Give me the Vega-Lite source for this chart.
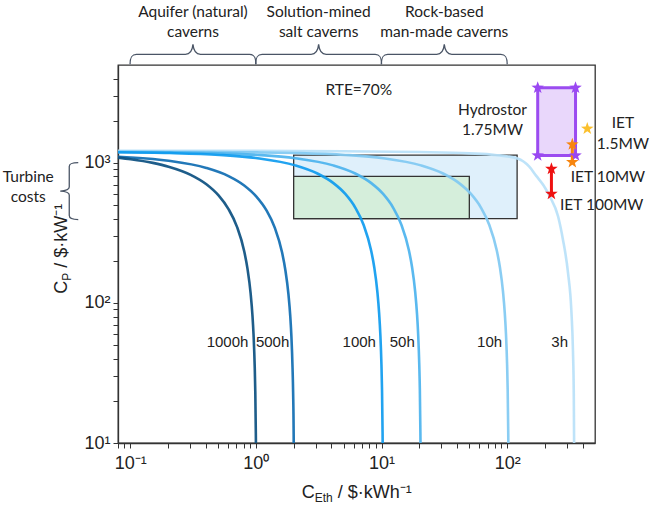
{
  "$schema": "https://vega.github.io/schema/vega-lite/v6.json",
  "width": 477,
  "height": 378,
  "autosize": {"type": "none"},
  "padding": {"left": 118, "top": 65, "right": 55, "bottom": 66},
  "background": "white",
  "config": {"view": {"stroke": "#333333", "strokeWidth": 1.3}},
  "datasets": {
    "curves": [
      {"h": "3h", "x": 0.08, "y": 1220}, {"h": "3h", "x": 1, "y": 1218}, {"h": "3h", "x": 5, "y": 1210}, {"h": "3h", "x": 20, "y": 1195}, {"h": "3h", "x": 50, "y": 1170}, {"h": "3h", "x": 80, "y": 1140}, {"h": "3h", "x": 121, "y": 1075}, {"h": "3h", "x": 150, "y": 940}, {"h": "3h", "x": 171, "y": 804}, {"h": "3h", "x": 195, "y": 690}, {"h": "3h", "x": 218, "y": 578}, {"h": "3h", "x": 254, "y": 416}, {"h": "3h", "x": 278, "y": 283}, {"h": "3h", "x": 305, "y": 164}, {"h": "3h", "x": 324, "y": 89}, {"h": "3h", "x": 334, "y": 45}, {"h": "3h", "x": 339, "y": 22}, {"h": "3h", "x": 341, "y": 10},
      {"h": "10h", "x": 0.08, "y": 1199}, {"h": "10h", "x": 0.515, "y": 1194}, {"h": "10h", "x": 1.03, "y": 1188}, {"h": "10h", "x": 2.06, "y": 1176}, {"h": "10h", "x": 5.15, "y": 1140}, {"h": "10h", "x": 10.3, "y": 1080}, {"h": "10h", "x": 20.6, "y": 960}, {"h": "10h", "x": 30.9, "y": 840}, {"h": "10h", "x": 41.2, "y": 720}, {"h": "10h", "x": 51.5, "y": 600}, {"h": "10h", "x": 61.8, "y": 480}, {"h": "10h", "x": 72.1, "y": 360}, {"h": "10h", "x": 82.4, "y": 240}, {"h": "10h", "x": 87.55, "y": 180}, {"h": "10h", "x": 92.7, "y": 120}, {"h": "10h", "x": 95.79, "y": 84}, {"h": "10h", "x": 97.85, "y": 60}, {"h": "10h", "x": 99.91, "y": 36}, {"h": "10h", "x": 100.94, "y": 24}, {"h": "10h", "x": 101.97, "y": 12}, {"h": "10h", "x": 102.15, "y": 10},
      {"h": "50h", "x": 0.08, "y": 1195}, {"h": "50h", "x": 0.206, "y": 1188}, {"h": "50h", "x": 0.412, "y": 1176}, {"h": "50h", "x": 1.03, "y": 1140}, {"h": "50h", "x": 2.06, "y": 1080}, {"h": "50h", "x": 4.12, "y": 960}, {"h": "50h", "x": 6.18, "y": 840}, {"h": "50h", "x": 8.24, "y": 720}, {"h": "50h", "x": 10.3, "y": 600}, {"h": "50h", "x": 12.36, "y": 480}, {"h": "50h", "x": 14.42, "y": 360}, {"h": "50h", "x": 16.48, "y": 240}, {"h": "50h", "x": 17.51, "y": 180}, {"h": "50h", "x": 18.54, "y": 120}, {"h": "50h", "x": 19.16, "y": 84}, {"h": "50h", "x": 19.57, "y": 60}, {"h": "50h", "x": 19.98, "y": 36}, {"h": "50h", "x": 20.19, "y": 24}, {"h": "50h", "x": 20.39, "y": 12}, {"h": "50h", "x": 20.43, "y": 10},
      {"h": "100h", "x": 0.08, "y": 1191}, {"h": "100h", "x": 0.206, "y": 1176}, {"h": "100h", "x": 0.515, "y": 1140}, {"h": "100h", "x": 1.03, "y": 1080}, {"h": "100h", "x": 2.06, "y": 960}, {"h": "100h", "x": 3.09, "y": 840}, {"h": "100h", "x": 4.12, "y": 720}, {"h": "100h", "x": 5.15, "y": 600}, {"h": "100h", "x": 6.18, "y": 480}, {"h": "100h", "x": 7.21, "y": 360}, {"h": "100h", "x": 8.24, "y": 240}, {"h": "100h", "x": 8.755, "y": 180}, {"h": "100h", "x": 9.27, "y": 120}, {"h": "100h", "x": 9.579, "y": 84}, {"h": "100h", "x": 9.785, "y": 60}, {"h": "100h", "x": 9.991, "y": 36}, {"h": "100h", "x": 10.094, "y": 24}, {"h": "100h", "x": 10.197, "y": 12}, {"h": "100h", "x": 10.215, "y": 10},
      {"h": "500h", "x": 0.08, "y": 1104}, {"h": "500h", "x": 0.101, "y": 1092}, {"h": "500h", "x": 0.202, "y": 1035}, {"h": "500h", "x": 0.404, "y": 920}, {"h": "500h", "x": 0.606, "y": 805}, {"h": "500h", "x": 0.808, "y": 690}, {"h": "500h", "x": 1.01, "y": 575}, {"h": "500h", "x": 1.212, "y": 460}, {"h": "500h", "x": 1.414, "y": 345}, {"h": "500h", "x": 1.616, "y": 230}, {"h": "500h", "x": 1.717, "y": 172}, {"h": "500h", "x": 1.818, "y": 115}, {"h": "500h", "x": 1.879, "y": 80.5}, {"h": "500h", "x": 1.919, "y": 57.5}, {"h": "500h", "x": 1.959, "y": 34.5}, {"h": "500h", "x": 1.98, "y": 23}, {"h": "500h", "x": 2.0, "y": 11.5}, {"h": "500h", "x": 2.002, "y": 10},
      {"h": "1000h", "x": 0.08, "y": 1090}, {"h": "1000h", "x": 0.101, "y": 1062}, {"h": "1000h", "x": 0.1515, "y": 1000}, {"h": "1000h", "x": 0.202, "y": 940}, {"h": "1000h", "x": 0.303, "y": 822}, {"h": "1000h", "x": 0.404, "y": 704}, {"h": "1000h", "x": 0.505, "y": 586}, {"h": "1000h", "x": 0.606, "y": 468}, {"h": "1000h", "x": 0.707, "y": 351}, {"h": "1000h", "x": 0.808, "y": 234}, {"h": "1000h", "x": 0.8585, "y": 175}, {"h": "1000h", "x": 0.909, "y": 117}, {"h": "1000h", "x": 0.9393, "y": 82}, {"h": "1000h", "x": 0.9595, "y": 58.5}, {"h": "1000h", "x": 0.9797, "y": 35}, {"h": "1000h", "x": 0.9898, "y": 23.4}, {"h": "1000h", "x": 0.9999, "y": 11.7}, {"h": "1000h", "x": 1.0014, "y": 10}
    ],
    "curveLabels": [
      {"text": "1000h", "x": 0.872, "y": 53},
      {"text": "500h", "x": 1.846, "y": 53},
      {"text": "100h", "x": 9.03, "y": 53},
      {"text": "50h", "x": 18.4, "y": 53},
      {"text": "10h", "x": 91.2, "y": 53},
      {"text": "3h", "x": 305, "y": 53}
    ],
    "notes": [
      {"text": "RTE=70%", "x": 6.6, "y": 3310},
      {"text": "Hydrostor", "x": 76.4, "y": 2382},
      {"text": "1.75MW", "x": 76.4, "y": 1714},
      {"text": "IET", "x": 834, "y": 1936},
      {"text": "1.5MW", "x": 834, "y": 1354},
      {"text": "IET 10MW", "x": 634, "y": 796},
      {"text": "IET 100MW", "x": 565, "y": 498},
      {"text": "Turbine", "x": 0.01545, "y": 796},
      {"text": "costs", "x": 0.01545, "y": 572},
      {"text": "Aquifer (natural)", "x": 0.316, "y": 11910},
      {"text": "caverns", "x": 0.316, "y": 8570},
      {"text": "Solution-mined", "x": 3.16, "y": 11910},
      {"text": "salt caverns", "x": 3.16, "y": 8570},
      {"text": "Rock-based", "x": 31.6, "y": 11910},
      {"text": "man-made caverns", "x": 31.6, "y": 8570}
    ],
    "plants": [
      {"series": "Hydrostor", "x": 175, "y": 1130},
      {"series": "Hydrostor", "x": 350, "y": 1130},
      {"series": "Hydrostor", "x": 175, "y": 3440},
      {"series": "Hydrostor", "x": 350, "y": 3440},
      {"series": "IET 1.5MW", "x": 434, "y": 1754},
      {"series": "IET 10MW", "x": 330, "y": 1354},
      {"series": "IET 10MW", "x": 330, "y": 1012},
      {"series": "IET 100MW", "x": 225, "y": 907},
      {"series": "IET 100MW", "x": 225, "y": 601}
    ],
    "ranges": [
      {"series": "IET 10MW", "x": 330, "y": 1012, "y2": 1354},
      {"series": "IET 100MW", "x": 225, "y": 601, "y2": 907}
    ]
  },
  "encoding": {
    "x": {
      "field": "x",
      "type": "quantitative",
      "scale": {"type": "log", "domain": [0.08, 500], "nice": false},
      "axis": {
        "title": null,
        "grid": false,
        "values": [0.08, 0.09, 0.1, 0.2, 0.3, 0.4, 0.5, 0.6, 0.7, 0.8, 0.9, 1, 2, 3, 4, 5, 6, 7, 8, 9, 10, 20, 30, 40, 50, 60, 70, 80, 90, 100, 200, 300, 400],
        "labelExpr": "datum.value == 0.1 ? '10⁻¹' : datum.value == 1 ? '10⁰' : datum.value == 10 ? '10¹' : datum.value == 100 ? '10²' : ''",
        "labelFont": "Liberation Sans",
        "labelFontSize": 18,
        "labelColor": "#222222",
        "labelPadding": 6,
        "labelOverlap": false,
        "labelFlush": false,
        "tickSize": 5,
        "tickColor": "#333333",
        "domainColor": "#333333",
        "domainWidth": 1.3
      }
    },
    "y": {
      "field": "y",
      "type": "quantitative",
      "scale": {"type": "log", "domain": [10, 5000], "nice": false},
      "axis": {
        "title": null,
        "grid": false,
        "values": [10, 20, 30, 40, 50, 60, 70, 80, 90, 100, 200, 300, 400, 500, 600, 700, 800, 900, 1000, 2000, 3000, 4000],
        "labelExpr": "datum.value == 10 ? '10¹' : datum.value == 100 ? '10²' : datum.value == 1000 ? '10³' : ''",
        "labelFont": "Liberation Sans",
        "labelFontSize": 18,
        "labelColor": "#222222",
        "labelPadding": 3,
        "labelOverlap": false,
        "labelFlush": false,
        "tickSize": 5,
        "tickColor": "#333333",
        "domainColor": "#333333",
        "domainWidth": 1.3
      }
    }
  },
  "layer": [
    {
      "data": {"values": [{"x": 2, "x2": 120, "y": 400, "y2": 1135}]},
      "mark": {"type": "rect", "fill": "#dff0fb", "stroke": "#333333", "strokeWidth": 1.3},
      "encoding": {"x2": {"field": "x2"}, "y2": {"field": "y2"}}
    },
    {
      "data": {"values": [{"x": 2, "x2": 50, "y": 400, "y2": 800}]},
      "mark": {"type": "rect", "fill": "#d5eedb", "stroke": "#333333", "strokeWidth": 1.3},
      "encoding": {"x2": {"field": "x2"}, "y2": {"field": "y2"}}
    },
    {
      "data": {"name": "curves"},
      "mark": {"type": "line", "strokeWidth": 2.6, "opacity": 0.92, "interpolate": "monotone"},
      "encoding": {
        "color": {
          "field": "h",
          "type": "nominal",
          "scale": {"domain": ["1000h", "500h", "100h", "50h", "10h", "3h"], "range": ["#0b4f80", "#0f6db2", "#0e9bef", "#4cb3ee", "#80c9f2", "#b8e1f8"]},
          "legend": null
        }
      }
    },
    {
      "data": {"name": "curveLabels"},
      "mark": {"type": "text", "align": "right", "baseline": "middle", "font": "Liberation Sans", "fontSize": 15, "color": "#222222"},
      "encoding": {"text": {"field": "text"}}
    },
    {
      "data": {"values": [{"x": 175, "x2": 350, "y": 1130, "y2": 3440}]},
      "mark": {"type": "rect", "fill": "#e9d7fb", "stroke": "#9b4cf0", "strokeWidth": 3},
      "encoding": {"x2": {"field": "x2"}, "y2": {"field": "y2"}}
    },
    {
      "data": {"name": "ranges"},
      "mark": {"type": "rule", "strokeWidth": 3},
      "encoding": {
        "y2": {"field": "y2"},
        "stroke": {
          "field": "series",
          "type": "nominal",
          "scale": {"domain": ["Hydrostor", "IET 1.5MW", "IET 10MW", "IET 100MW"], "range": ["#9a48f2", "#fbc02d", "#f7850f", "#ee1111"]},
          "legend": null
        }
      }
    },
    {
      "data": {"name": "plants"},
      "mark": {
        "type": "point",
        "shape": "M0,-1L0.235,-0.324L0.951,-0.309L0.38,0.124L0.588,0.809L0,0.4L-0.588,0.809L-0.38,0.124L-0.951,-0.309L-0.235,-0.324Z",
        "size": 175,
        "filled": true,
        "opacity": 1
      },
      "encoding": {
        "fill": {
          "field": "series",
          "type": "nominal",
          "scale": {"domain": ["Hydrostor", "IET 1.5MW", "IET 10MW", "IET 100MW"], "range": ["#9a48f2", "#fbc02d", "#f7850f", "#ee1111"]},
          "legend": null
        }
      }
    },
    {
      "data": {"name": "notes"},
      "mark": {"type": "text", "align": "center", "baseline": "middle", "font": "Lato", "fontSize": 15.5, "color": "#222222"},
      "encoding": {"text": {"field": "text"}}
    },
    {
      "data": {"values": [{"x": 0.316, "y": 5963}, {"x": 3.16, "y": 5963}, {"x": 31.6, "y": 5963}]},
      "mark": {
        "type": "point",
        "shape": "M-1,0.159C-1,0.04,-0.97,0,-0.9,0L-0.12,0C-0.04,0,-0.01,-0.05,0,-0.159C0.01,-0.05,0.04,0,0.12,0L0.9,0C0.97,0,1,0.04,1,0.159",
        "size": 15826,
        "filled": false,
        "opacity": 1,
        "stroke": "#4a5566",
        "strokeWidth": 1.3
      }
    },
    {
      "data": {"values": [{"x": 0.03275, "y": 629}]},
      "mark": {
        "type": "point",
        "shape": "M0.316,-1C0.08,-1,0,-0.96,0,-0.86L0,-0.14C0,-0.05,-0.1,-0.01,-0.316,0C-0.1,0.01,0,0.05,0,0.14L0,0.86C0,0.96,0.08,1,0.316,1",
        "size": 3249,
        "filled": false,
        "opacity": 1,
        "stroke": "#4a5566",
        "strokeWidth": 1.3
      }
    },
    {
      "data": {"values": [{"x": 2.317, "y": 4.39}]},
      "mark": {"type": "text", "text": "C", "align": "left", "baseline": "middle", "font": "Liberation Sans", "fontSize": 18, "color": "#222222"}
    },
    {
      "data": {"values": [{"x": 2.317, "y": 4.39}]},
      "mark": {"type": "text", "text": "Eth", "align": "left", "baseline": "middle", "dx": 13, "dy": 5, "font": "Liberation Sans", "fontSize": 12, "color": "#222222"}
    },
    {
      "data": {"values": [{"x": 2.317, "y": 4.39}]},
      "mark": {"type": "text", "text": "/ $·kWh⁻¹", "align": "left", "baseline": "middle", "dx": 36, "font": "Liberation Sans", "fontSize": 18, "color": "#222222"}
    },
    {
      "data": {"values": [{"x": 0.02881, "y": 116.4}]},
      "mark": {"type": "text", "text": "C", "angle": 270, "align": "left", "baseline": "middle", "font": "Liberation Sans", "fontSize": 18, "color": "#222222"}
    },
    {
      "data": {"values": [{"x": 0.02881, "y": 116.4}]},
      "mark": {"type": "text", "text": "P", "angle": 270, "align": "left", "baseline": "middle", "dx": 13, "dy": 5, "font": "Liberation Sans", "fontSize": 12, "color": "#222222"}
    },
    {
      "data": {"values": [{"x": 0.02881, "y": 116.4}]},
      "mark": {"type": "text", "text": "/ $·kW⁻¹", "angle": 270, "align": "left", "baseline": "middle", "dx": 26, "font": "Liberation Sans", "fontSize": 18, "color": "#222222"}
    }
  ]
}
